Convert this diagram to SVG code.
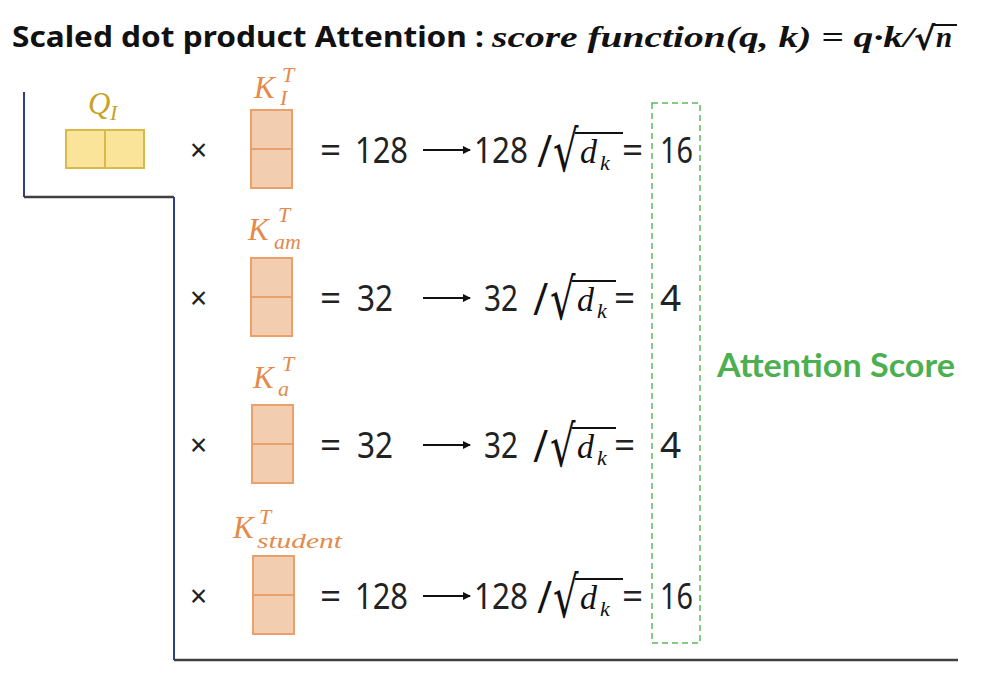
<svg xmlns="http://www.w3.org/2000/svg" width="986" height="674" viewBox="0 0 986 674">
<defs>
<style>
.title{font-family:"Noto Sans","Liberation Sans",sans-serif;font-weight:bold;font-size:28px;fill:#111}
.math{font-family:"Liberation Serif",serif;font-style:italic;font-weight:bold;font-size:29px;fill:#111}
.num{font-family:"Noto Sans","Liberation Sans",sans-serif;font-size:37px;fill:#222}
.times{font-family:"Noto Sans","Liberation Sans",sans-serif;font-size:30px;fill:#222}
.slash{font-family:"Liberation Serif",serif;font-size:48px;font-weight:bold;fill:#111}
.rad{font-family:"DejaVu Sans",sans-serif;font-size:40px;fill:#111}
.mi{font-family:"Liberation Serif",serif;font-style:italic;font-size:34px;fill:#111}
.ms{font-family:"Liberation Serif",serif;font-style:italic;font-size:22px;fill:#111}
.kl{font-family:"Liberation Serif",serif;font-style:italic;font-size:31px;fill:#e38a4c}
.ks{font-family:"Liberation Serif",serif;font-style:italic;font-size:22px;fill:#e38a4c}
.ql{font-family:"Liberation Serif",serif;font-style:italic;font-size:31px;fill:#c9a227}
.qs{font-family:"Liberation Serif",serif;font-style:italic;font-size:22px;fill:#c9a227}
.kbox{fill:#f2cdb0;stroke:#e9a06a;stroke-width:2}
.kdiv{stroke:#e9a06a;stroke-width:2}
.qbox{fill:#f9e49a;stroke:#d9b94a;stroke-width:2}
.blue{stroke:#2f3f8f;stroke-width:2;fill:none}
.gray{stroke:#404040;stroke-width:2.5;fill:none}
.arrow{stroke:#111;stroke-width:2;fill:none}
.vinc{stroke:#111;stroke-width:2}
.green{font-family:"Lato","Noto Sans",sans-serif;font-weight:bold;font-size:32px;fill:#4caf50}
</style>
<marker id="ah" markerWidth="8" markerHeight="8" refX="7" refY="4" orient="auto" markerUnits="userSpaceOnUse">
<path d="M0,0 L8,4 L0,8 z" fill="#111"/>
</marker>
</defs>
<rect width="986" height="674" fill="#fff"/>

<g id="title">
<text class="title" x="12" y="47" textLength="472" lengthAdjust="spacingAndGlyphs">Scaled dot product Attention :</text>
<text class="math" x="492" y="47" textLength="422" lengthAdjust="spacingAndGlyphs">score function(q, k) = q·k/</text>
<text class="rad" x="914" y="50" style="font-size:32px;font-weight:bold">√</text>
<line x1="932" y1="25" x2="957" y2="25" stroke="#111" stroke-width="2"/>
<text class="math" x="936" y="47">n</text>
</g>

<g id="connectors">
<polyline class="blue" points="24,92 24,197"/>
<polyline class="gray" points="24,197 174,197"/>
<polyline class="blue" points="174,197 174,660"/>
<polyline class="gray" points="174,660 958,660"/>
</g>

<g id="query">
<text class="ql" x="88" y="114">Q</text>
<text class="qs" x="110" y="120">I</text>
<rect class="qbox" x="66" y="130" width="78" height="38"/>
<line x1="105" y1="130" x2="105" y2="168" stroke="#d9b94a" stroke-width="2"/>
</g>

<g id="row1">
<text class="times" x="190" y="161">×</text>
<text class="kl" x="254" y="98">K</text>
<text class="ks" x="282" y="82">T</text>
<text class="ks" x="280" y="105">I</text>
<rect class="kbox" x="251" y="110" width="41" height="78"/>
<line class="kdiv" x1="251" y1="149" x2="292" y2="149"/>
<text class="num" x="320" y="163">=</text>
<text class="num" x="355" y="163" textLength="53" lengthAdjust="spacingAndGlyphs">128</text>
<line class="arrow" x1="423" y1="150" x2="470" y2="150" marker-end="url(#ah)"/>
<text class="num" x="474" y="163" textLength="54" lengthAdjust="spacingAndGlyphs">128</text>
<text class="slash" x="538" y="167">/</text>
<text class="rad" transform="translate(553,171) scale(1,1.42)">√</text>
<line class="vinc" x1="575" y1="133" x2="623" y2="133"/>
<text class="mi" x="580" y="163">d</text>
<text class="ms" x="600" y="170">k</text>
<text class="num" x="622" y="163">=</text>
<text class="num" x="660" y="163" textLength="33" lengthAdjust="spacingAndGlyphs">16</text>
</g>

<g id="row2">
<text class="times" x="190" y="309">×</text>
<text class="kl" x="248" y="240">K</text>
<text class="ks" x="278" y="222">T</text>
<text class="ks" x="274" y="249">am</text>
<rect class="kbox" x="251" y="258" width="41" height="78"/>
<line class="kdiv" x1="251" y1="297" x2="292" y2="297"/>
<text class="num" x="320" y="311">=</text>
<text class="num" x="357" y="311" textLength="36" lengthAdjust="spacingAndGlyphs">32</text>
<line class="arrow" x1="423" y1="298" x2="470" y2="298" marker-end="url(#ah)"/>
<text class="num" x="484" y="311" textLength="34" lengthAdjust="spacingAndGlyphs">32</text>
<text class="slash" x="534" y="315">/</text>
<text class="rad" transform="translate(550,319) scale(1,1.42)">√</text>
<line class="vinc" x1="572" y1="281" x2="616" y2="281"/>
<text class="mi" x="577" y="311">d</text>
<text class="ms" x="597" y="318">k</text>
<text class="num" x="614" y="311">=</text>
<text class="num" x="660" y="311">4</text>
</g>

<g id="row3">
<text class="times" x="190" y="456">×</text>
<text class="kl" x="253" y="388">K</text>
<text class="ks" x="282" y="371">T</text>
<text class="ks" x="278" y="396">a</text>
<rect class="kbox" x="252" y="405" width="41" height="78"/>
<line class="kdiv" x1="252" y1="444" x2="293" y2="444"/>
<text class="num" x="320" y="458">=</text>
<text class="num" x="357" y="458" textLength="36" lengthAdjust="spacingAndGlyphs">32</text>
<line class="arrow" x1="423" y1="445" x2="470" y2="445" marker-end="url(#ah)"/>
<text class="num" x="484" y="458" textLength="34" lengthAdjust="spacingAndGlyphs">32</text>
<text class="slash" x="534" y="462">/</text>
<text class="rad" transform="translate(550,466) scale(1,1.42)">√</text>
<line class="vinc" x1="572" y1="428" x2="616" y2="428"/>
<text class="mi" x="577" y="458">d</text>
<text class="ms" x="597" y="465">k</text>
<text class="num" x="614" y="458">=</text>
<text class="num" x="660" y="458">4</text>
</g>

<g id="row4">
<text class="times" x="190" y="607">×</text>
<text class="kl" x="233" y="538">K</text>
<text class="ks" x="259" y="524">T</text>
<text class="ks" x="257" y="548" textLength="85" lengthAdjust="spacingAndGlyphs">student</text>
<rect class="kbox" x="253" y="556" width="41" height="78"/>
<line class="kdiv" x1="253" y1="595" x2="294" y2="595"/>
<text class="num" x="320" y="609">=</text>
<text class="num" x="355" y="609" textLength="53" lengthAdjust="spacingAndGlyphs">128</text>
<line class="arrow" x1="423" y1="596" x2="470" y2="596" marker-end="url(#ah)"/>
<text class="num" x="474" y="609" textLength="54" lengthAdjust="spacingAndGlyphs">128</text>
<text class="slash" x="538" y="613">/</text>
<text class="rad" transform="translate(553,617) scale(1,1.42)">√</text>
<line class="vinc" x1="575" y1="579" x2="623" y2="579"/>
<text class="mi" x="580" y="609">d</text>
<text class="ms" x="600" y="616">k</text>
<text class="num" x="622" y="609">=</text>
<text class="num" x="660" y="609" textLength="33" lengthAdjust="spacingAndGlyphs">16</text>
</g>

<g id="attention-score">
<rect x="652" y="103" width="48" height="540" fill="none" stroke="#5cb85c" stroke-width="1.5" stroke-dasharray="6,4"/>
<text class="green" x="717" y="377" textLength="238" lengthAdjust="spacingAndGlyphs">Attention Score</text>
</g>
</svg>
